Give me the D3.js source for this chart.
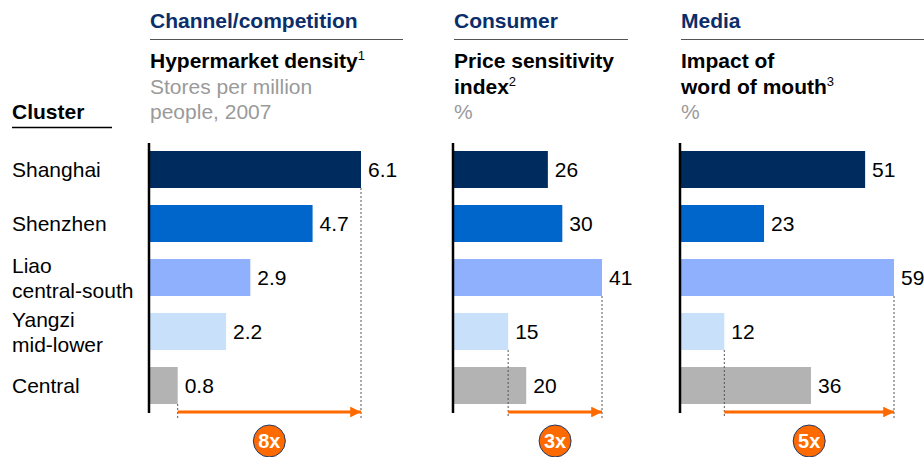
<!DOCTYPE html>
<html><head><meta charset="utf-8">
<script src="https://cdn.jsdelivr.net/npm/d3@7"></script>
<style>body{margin:0;background:#fff;} text{font-family:"Liberation Sans",Arial,sans-serif;}</style>
</head><body><svg id="c" width="924" height="457"></svg>
<script>
const clusters = [["Shanghai"],["Shenzhen"],["Liao","central-south"],["Yangzi","mid-lower"],["Central"]];
const clusterKeys = ["Shanghai","Shenzhen","Liao","Yangzi","Central"];
const hypermarketDensity = [6.1, 4.7, 2.9, 2.2, 0.8];
const priceSensitivity = [26, 30, 41, 15, 20];
const wordOfMouth = [51, 23, 59, 12, 36];
const multiples = ["8x", "3x", "5x"];
const groupTitles = ["Channel/competition", "Consumer", "Media"];
const colors = ["#002b5e", "#0066cc", "#8fb0fd", "#c8e0fa", "#b3b3b3"];

const svg = d3.select("#c");
const navy = "#0b2e6b";
const orange = "#ff6a00";
const FS = 21;

const y = d3.scaleBand().domain(clusterKeys).range([142.5, 412.5]).paddingInner(0.315).paddingOuter(0.1575);

// Cluster header
svg.append("text").attr("x", 12).attr("y", 119).attr("font-size", FS).attr("font-weight", "bold").attr("fill", "#000").text("Cluster");
svg.append("line").attr("x1", 12).attr("x2", 112).attr("y1", 127.5).attr("y2", 127.5).attr("stroke", "#000").attr("stroke-width", 1.5);

clusters.forEach((lines, i) => {
  const cy = y(clusterKeys[i]) + y.bandwidth() / 2;
  const t = svg.append("text").attr("x", 12).attr("font-size", FS).attr("fill", "#000");
  const off = (lines.length - 1) * 12.5;
  lines.forEach((l, j) => {
    t.append("tspan").attr("x", 12).attr("y", cy - off + j * 25).attr("dy", "0.36em").text(l);
  });
});

const panels = [
  {x0: 149, lineEnd: 403, values: hypermarketDensity, domain: [0, 6.1], width: 211, fmt: d3.format(".1f"),
   title: groupTitles[0], sub: [{t: "Hypermarket density", sup: "1", bold: true}, {t: "Stores per million"}, {t: "people, 2007"}], mult: multiples[0]},
  {x0: 453, lineEnd: 628, values: priceSensitivity, domain: [0, 59], width: 213, fmt: d3.format("d"),
   title: groupTitles[1], sub: [{t: "Price sensitivity", bold: true}, {t: "index", sup: "2", bold: true}, {t: "%"}], mult: multiples[1]},
  {x0: 680, lineEnd: 924, values: wordOfMouth, domain: [0, 59], width: 213, fmt: d3.format("d"),
   title: groupTitles[2], sub: [{t: "Impact of", bold: true}, {t: "word of mouth", sup: "3", bold: true}, {t: "%"}], mult: multiples[2]}
];

const defs = svg.append("defs");
defs.append("marker").attr("id", "ah").attr("viewBox", "0 0 10 10").attr("refX", 10).attr("refY", 5)
  .attr("markerWidth", 4.2).attr("markerHeight", 3.6).attr("markerUnits", "strokeWidth").attr("orient", "auto")
  .append("path").attr("d", "M0,0L10,5L0,10Z").attr("fill", orange);

panels.forEach(p => {
  const g = svg.append("g");
  const x = d3.scaleLinear().domain(p.domain).range([p.x0 + 1, p.x0 + 1 + p.width]);
  // header
  g.append("text").attr("x", p.x0 + 1).attr("y", 28).attr("font-size", FS).attr("font-weight", "bold").attr("fill", navy).text(p.title);
  g.append("line").attr("x1", p.x0 + 1).attr("x2", p.lineEnd).attr("y1", 39.5).attr("y2", 39.5).attr("stroke", "#555").attr("stroke-width", 1.2);
  p.sub.forEach((s, j) => {
    const t = g.append("text").attr("x", p.x0 + 1).attr("y", 68 + j * 25.5).attr("font-size", FS)
      .attr("font-weight", s.bold ? "bold" : "normal").attr("fill", s.bold ? "#000" : "#9a9a9a").text(s.t);
    if (s.sup) t.append("tspan").attr("font-size", 13).attr("font-weight", "normal").attr("dy", -8).text(s.sup);
  });
  // bars
  g.selectAll("rect.bar").data(p.values).join("rect").attr("class", "bar")
    .attr("x", x(0)).attr("y", (d, i) => y(clusterKeys[i])).attr("width", d => x(d) - x(0))
    .attr("height", y.bandwidth()).attr("fill", (d, i) => colors[i]);
  g.selectAll("text.val").data(p.values).join("text").attr("class", "val")
    .attr("x", d => x(d) + 7).attr("y", (d, i) => y(clusterKeys[i]) + y.bandwidth() / 2).attr("dy", "0.36em")
    .attr("font-size", FS).attr("fill", "#000").text(d => p.fmt(d));
  // axis
  g.append("line").attr("x1", p.x0).attr("x2", p.x0).attr("y1", 143).attr("y2", 413).attr("stroke", "#000").attr("stroke-width", 2.5);
  // dashed guides
  const maxI = d3.maxIndex(p.values), minI = d3.minIndex(p.values);
  [maxI, minI].forEach(i => {
    g.append("line").attr("x1", x(p.values[i])).attr("x2", x(p.values[i]))
      .attr("y1", y(clusterKeys[i]) + y.bandwidth()).attr("y2", 418)
      .attr("stroke", "#555").attr("stroke-width", 1).attr("stroke-dasharray", "2,2");
  });
  // arrow
  const xa = x(p.values[minI]), xb = x(p.values[maxI]);
  g.append("line").attr("x1", xa).attr("x2", xb).attr("y1", 412).attr("y2", 412)
    .attr("stroke", orange).attr("stroke-width", 3).attr("marker-end", "url(#ah)");
  const cx = (xa + xb) / 2;
  g.append("circle").attr("cx", cx).attr("cy", 441).attr("r", 16).attr("fill", orange).attr("stroke", "#1f3a6b").attr("stroke-width", 1);
  g.append("text").attr("x", cx).attr("y", 441).attr("dy", "0.36em").attr("text-anchor", "middle")
    .attr("font-size", 20).attr("font-weight", "bold").attr("fill", "#fff").text(p.mult);
});
</script></body></html>
